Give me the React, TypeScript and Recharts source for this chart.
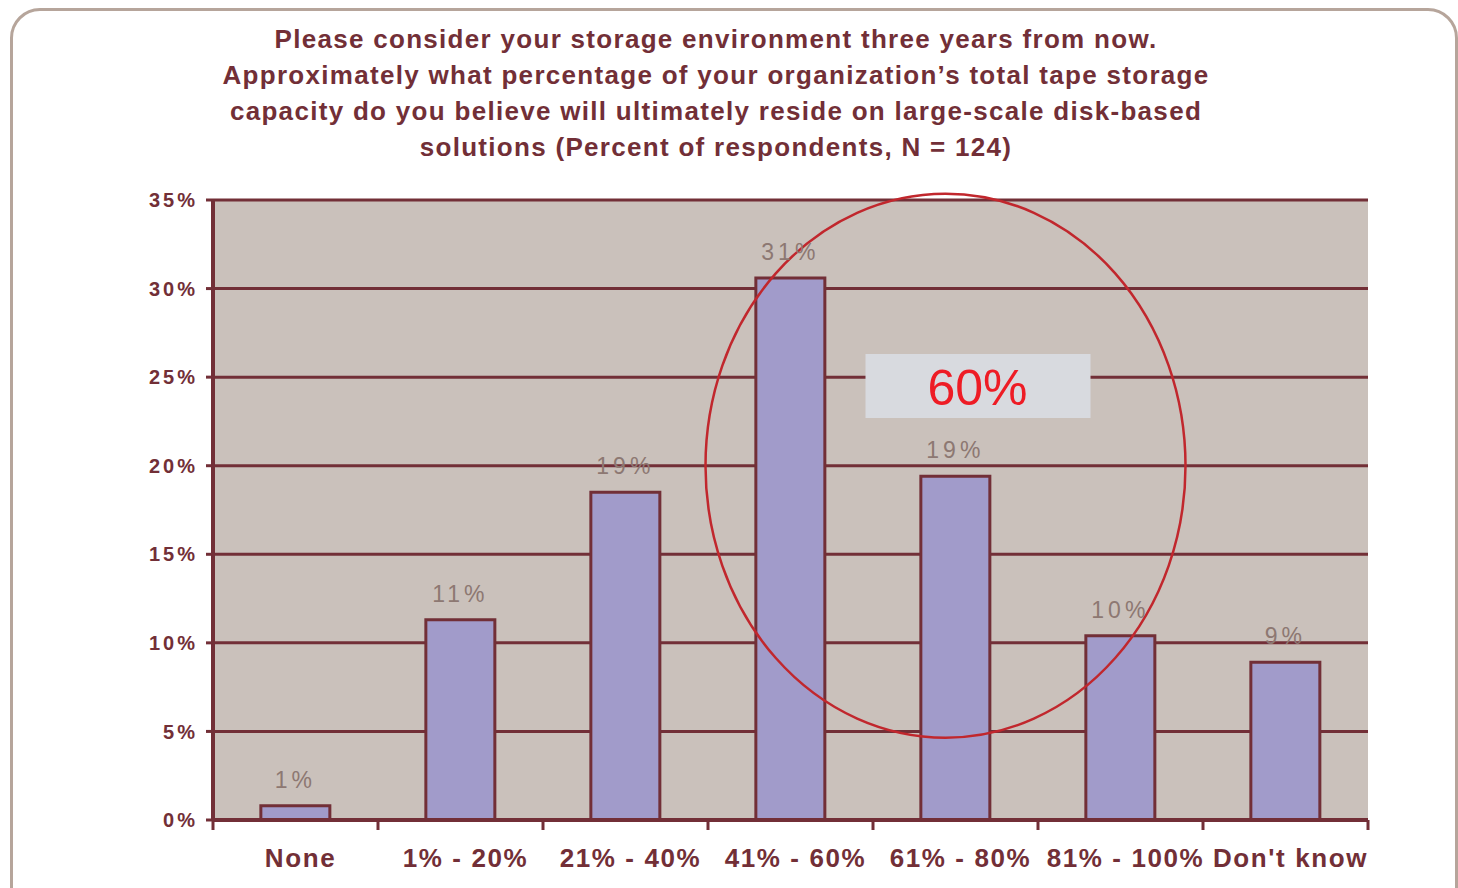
import React from "react";
import {
  BarChart,
  Bar,
  XAxis,
  YAxis,
  CartesianGrid,
  LabelList,
  ReferenceDot,
} from "recharts";

const titleLines = [
  "Please consider your storage environment three years from now.",
  "Approximately what percentage of your organization\u2019s total tape storage",
  "capacity do you believe will ultimately reside on large-scale disk-based",
  "solutions (Percent of respondents, N = 124)",
];

const categories = [
  "None",
  "1% - 20%",
  "21% - 40%",
  "41% - 60%",
  "61% - 80%",
  "81% - 100%",
  "Don't know",
];
const shares = [0.8, 11.3, 18.5, 30.6, 19.4, 10.4, 8.9];
const shareLabels = ["1%", "11%", "19%", "31%", "19%", "10%", "9%"];
const yTicks = [0, 5, 10, 15, 20, 25, 30, 35];

const calloutCategory = "61% - 80%";
const calloutCenterValue = 20;
const calloutBoxValue = 24.5;
const calloutText = "60%";

const data = categories.map((name, i) => ({
  name,
  share: shares[i],
  label: shareLabels[i],
}));

const maroon = "#722f37";
const font = "'Liberation Sans', Arial, sans-serif";

// category label plus the small tick marks that sit on the category edges
function CategoryTick(props: any) {
  const { x, y, payload, index, visibleTicksCount } = props;
  const half = payload && payload.offset ? payload.offset : 0;
  const axisY = y - 28;
  const isLast = index === (visibleTicksCount ?? categories.length) - 1;
  return (
    <g>
      <line x1={x - half} x2={x - half} y1={axisY} y2={axisY + 10} stroke={maroon} strokeWidth={3} />
      {isLast && (
        <line x1={x + half} x2={x + half} y1={axisY} y2={axisY + 10} stroke={maroon} strokeWidth={3} />
      )}
      <text
        x={x + 5}
        y={y + 1}
        dy="0.71em"
        textAnchor="middle"
        fill={maroon}
        fontSize={26}
        fontWeight="bold"
        fontFamily={font}
        letterSpacing={1.6}
      >
        {payload.value}
      </text>
    </g>
  );
}

function Ellipse(props: any) {
  const { cx, cy } = props;
  if (cx == null || cy == null) return <g />;
  return (
    <ellipse
      cx={cx - 10}
      cy={cy}
      rx={240}
      ry={272}
      fill="none"
      stroke="#c1272d"
      strokeWidth={2.5}
    />
  );
}

function CalloutBox(props: any) {
  const { cx, cy } = props;
  if (cx == null || cy == null) return <g />;
  return (
    <g>
      <rect x={cx - 90} y={cy - 32} width={225} height={64} fill="#d8dadf" />
      <text
        x={cx + 22}
        y={cy + 2}
        textAnchor="middle"
        dominantBaseline="central"
        fontFamily={font}
        fontSize={50}
        fill="#ee1c25"
      >
        {calloutText}
      </text>
    </g>
  );
}

export default function App() {
  return (
    <div
      style={{
        position: "absolute",
        left: 0,
        top: 0,
        width: 1458,
        height: 888,
        overflow: "hidden",
        background: "#fff",
        fontFamily: font,
      }}
    >
      <div
        style={{
          position: "absolute",
          left: 10,
          top: 8,
          width: 1442,
          height: 940,
          border: "3px solid #b6a59b",
          borderRadius: 30,
        }}
      />
      <div
        style={{
          position: "absolute",
          left: 0,
          top: 21,
          width: 1432,
          textAlign: "center",
          fontWeight: "bold",
          fontSize: 26,
          lineHeight: "36px",
          color: maroon,
          letterSpacing: 1.3,
        }}
      >
        {titleLines.map((t) => (
          <div key={t}>{t}</div>
        ))}
      </div>
      <div style={{ position: "absolute", left: 0, top: 0 }}>
        <BarChart
          width={1458}
          height={888}
          data={data}
          margin={{ top: 200, right: 90, left: 0, bottom: 0 }}
          barCategoryGap="29%"
        >
          <CartesianGrid
            vertical={false}
            stroke={maroon}
            strokeWidth={3}
            fill="#cac1bb"
            fillOpacity={1}
          />
          <XAxis
            dataKey="name"
            height={68}
            axisLine={{ stroke: maroon, strokeWidth: 4 }}
            tickLine={false}
            tickSize={0}
            tickMargin={28}
            interval={0}
            tick={CategoryTick}
          />
          <YAxis
            width={213}
            domain={[0, 35]}
            ticks={yTicks}
            tickFormatter={(v) => `${v}%`}
            tickSize={7}
            tickMargin={8}
            tickLine={{ stroke: maroon, strokeWidth: 3 }}
            axisLine={{ stroke: maroon, strokeWidth: 4 }}
            tick={{
              fill: maroon,
              fontSize: 20,
              fontWeight: "bold",
              fontFamily: font,
              letterSpacing: 3,
            }}
          />
          <Bar
            dataKey="share"
            fill="#a19bca"
            stroke={maroon}
            strokeWidth={3}
            isAnimationActive={false}
          >
            <LabelList
              dataKey="label"
              position="top"
              offset={18}
              fill="#8d7872"
              fontSize={23}
              fontFamily={font}
              letterSpacing={4}
            />
          </Bar>
          <ReferenceDot
            x={calloutCategory}
            y={calloutBoxValue}
            r={0}
            shape={<CalloutBox />}
          />
          <ReferenceDot
            x={calloutCategory}
            y={calloutCenterValue}
            r={0}
            shape={<Ellipse />}
          />
        </BarChart>
      </div>
    </div>
  );
}
